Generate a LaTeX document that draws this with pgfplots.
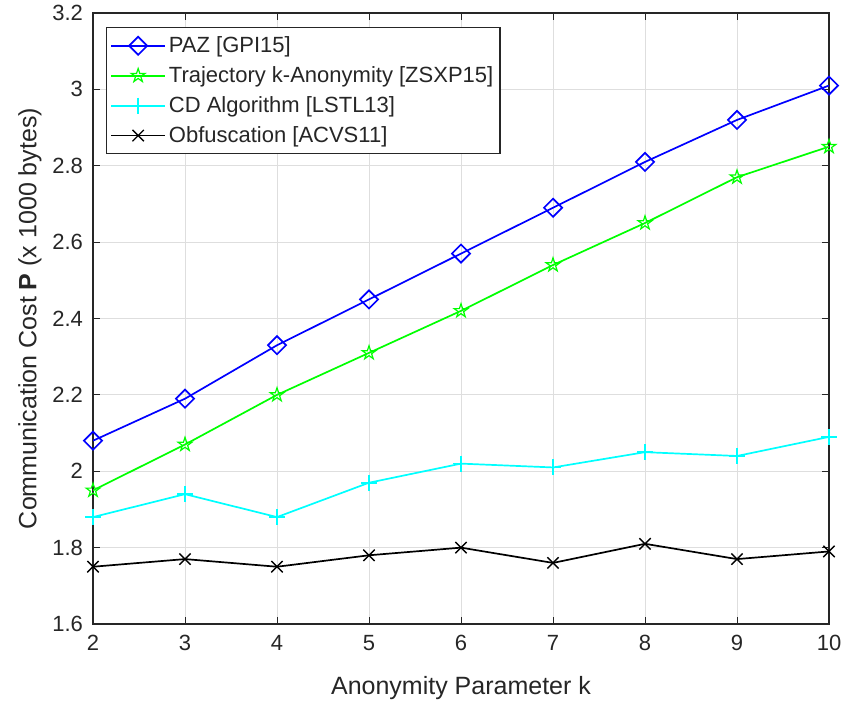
\documentclass[border=0pt]{standalone}
\usepackage{fontspec}
\setmainfont{Liberation Sans}
\usepackage{pgfplots}
\pgfplotsset{compat=1.18}

% five-pointed outline star
\pgfdeclareplotmark{pentagram}{%
  \pgfpathmoveto{\pgfpointpolar{90}{\pgfplotmarksize}}%
  \pgfpathlineto{\pgfpointpolar{126}{0.382\pgfplotmarksize}}%
  \pgfpathlineto{\pgfpointpolar{162}{\pgfplotmarksize}}%
  \pgfpathlineto{\pgfpointpolar{198}{0.382\pgfplotmarksize}}%
  \pgfpathlineto{\pgfpointpolar{234}{\pgfplotmarksize}}%
  \pgfpathlineto{\pgfpointpolar{270}{0.382\pgfplotmarksize}}%
  \pgfpathlineto{\pgfpointpolar{306}{\pgfplotmarksize}}%
  \pgfpathlineto{\pgfpointpolar{342}{0.382\pgfplotmarksize}}%
  \pgfpathlineto{\pgfpointpolar{18}{\pgfplotmarksize}}%
  \pgfpathlineto{\pgfpointpolar{54}{0.382\pgfplotmarksize}}%
  \pgfpathclose
  \pgfusepathqstroke
}

\definecolor{axgray}{gray}{0.15}
\definecolor{gridgray}{gray}{0.87}

\begin{document}
\begin{tikzpicture}
\begin{axis}[
  scale only axis,
  width=368pt, height=305.5pt,
  xmin=2, xmax=10, ymin=1.6, ymax=3.2,
  xtick={2,...,10},
  ytick={1.6,1.8,...,3.21},
  /pgf/number format/assume math mode=true,
  yticklabel style={/pgf/number format/fixed, /pgf/number format/precision=1, xshift=-1.5pt},
  xticklabel style={yshift=-2pt},
  tick label style={font=\fontsize{11}{13}\selectfont, text=axgray},
  tick align=inside,
  major tick length=3.5pt,
  every tick/.style={axgray, line width=0.5pt},
  axis line style={axgray, line width=0.6pt},
  grid=major,
  major grid style={gridgray, line width=0.5pt},
  xlabel={Anonymity Parameter k},
  ylabel={Communication Cost \textbf{P} (x 1000 bytes)},
  label style={font=\fontsize{12.5}{15}\selectfont, text=axgray},
  xlabel style={at={(axis description cs:0.5,-0.1047)}, anchor=center},
  ylabel style={at={(axis description cs:-0.0856,0.5)}, anchor=center},
  legend cell align=left,
  legend image code/.code={%
    \draw[mark repeat=2, mark phase=2] plot coordinates {(0pt,0pt) (13.5pt,0pt) (27pt,0pt)};},
  legend style={at={(rel axis cs:0,1)}, anchor=north west, xshift=6.5pt, yshift=-7pt,
    draw=axgray, fill=white, line width=0.6pt,
    font=\fontsize{11}{13}\selectfont,
    inner xsep=1.85pt, inner ysep=1.6pt, row sep=0pt,
    nodes={inner xsep=1.45pt, inner ysep=2.75pt, text=black!85}},
  every axis plot/.append style={line width=0.85pt},
]
\addplot[color={rgb,1:red,0;green,0;blue,1}, mark=square, mark size=3.2pt,
  mark options={solid, rotate=45}]
  coordinates {(2,2.08) (3,2.19) (4,2.33) (5,2.45) (6,2.57) (7,2.69) (8,2.81) (9,2.92) (10,3.01)};
\addlegendentry{PAZ [GPI15]}
\addplot[color={rgb,1:red,0;green,1;blue,0}, mark=pentagram, mark size=3.6pt,
  mark options={solid, line width=0.6pt}]
  coordinates {(2,1.95) (3,2.07) (4,2.20) (5,2.31) (6,2.42) (7,2.54) (8,2.65) (9,2.77) (10,2.85)};
\addlegendentry{Trajectory k-Anonymity [ZSXP15]}
\addplot[color={rgb,1:red,0;green,1;blue,1}, mark=+, mark size=4pt,
  mark options={solid}]
  coordinates {(2,1.88) (3,1.94) (4,1.88) (5,1.97) (6,2.02) (7,2.01) (8,2.05) (9,2.04) (10,2.09)};
\addlegendentry{CD Algorithm [LSTL13]}
\addplot[color=black, mark=x, mark size=4pt,
  mark options={solid, line width=0.7pt}]
  coordinates {(2,1.75) (3,1.77) (4,1.75) (5,1.78) (6,1.80) (7,1.76) (8,1.81) (9,1.77) (10,1.79)};
\addlegendentry{Obfuscation [ACVS11]}
\coordinate (sw) at (rel axis cs:0,0);
\coordinate (ne) at (rel axis cs:1,1);
\end{axis}
\pgfresetboundingbox
\path[use as bounding box] ([xshift=-46.5pt,yshift=-41pt]sw) rectangle ([xshift=8pt,yshift=6.5pt]ne);
\end{tikzpicture}
\end{document}
